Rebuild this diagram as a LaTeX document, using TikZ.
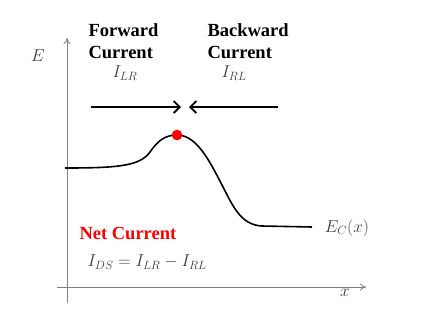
\documentclass[tikz,border=0pt]{standalone}
\usepackage{fontspec}
\setmainfont{Liberation Serif}
\usetikzlibrary{arrows.meta}
\definecolor{labelgray}{RGB}{60,60,60}
\tikzset{
 axis/.style={gray,line width=.8pt,-{To[length=6pt,width=7pt]}},
 flux/.style={line width=1.8pt,-{Straight Barb[length=6pt,width=12pt,line width=1.8pt]}},
 head/.style={align=left,anchor=north west,font=\fontsize{18.5}{22}\selectfont\bfseries},
 sym/.style={labelgray,font=\fontsize{17.5}{20}\selectfont}
}
\begin{document}
\begin{tikzpicture}[x=1pt,y=-1pt]
 \useasboundingbox (0,0) rectangle (423,325);
 % axes
 \coordinate (xs) at (57,287);
 \coordinate (xe) at (366,287);
 \coordinate (ys) at (67,303);
 \coordinate (ye) at (67,38);
 \draw[axis] (xs)--(xe);
 \draw[axis] (ys)--(ye);
 \node[sym] (xlab) at (345,293) {$x$};
 \node[sym] (elab) at (38,56) {$E$};
 % band edge
 \coordinate (peak) at (177,135);
 \draw[line width=1.6pt] (65,168) .. controls (118,168) and (140,166) .. (150,152)
   .. controls (157,142) and (164,135) .. (peak)
   .. controls (197,135) and (210,162) .. (222,185)
   .. controls (232,204) and (240,225) .. (262,226) -- (312,227);
 \fill[red] (peak) circle (5.3);
 \node[sym] (eclab) at (347,228) {$E_C(x)$};
 % currents
 \node[head] (fwd) at (85,20) {Forward\\Current};
 \node[head] (bwd) at (204,20) {Backward\\Current};
 \node[sym] (ilr) at (125,73) {$I_{LR}$};
 \node[sym] (irl) at (234,73) {$I_{RL}$};
 \coordinate (fs) at (91,107);
 \coordinate (fe) at (181,107);
 \coordinate (bs) at (278,107);
 \coordinate (be) at (189,107);
 \draw[flux] (fs)--(fe);
 \draw[flux] (bs)--(be);
 % net current
 \node[head,red,anchor=west] (net) at (76,233) {Net Current};
 \node[sym,anchor=west] (ids) at (84,262) {$I_{DS}=I_{LR}-I_{RL}$};
\end{tikzpicture}
\end{document}
